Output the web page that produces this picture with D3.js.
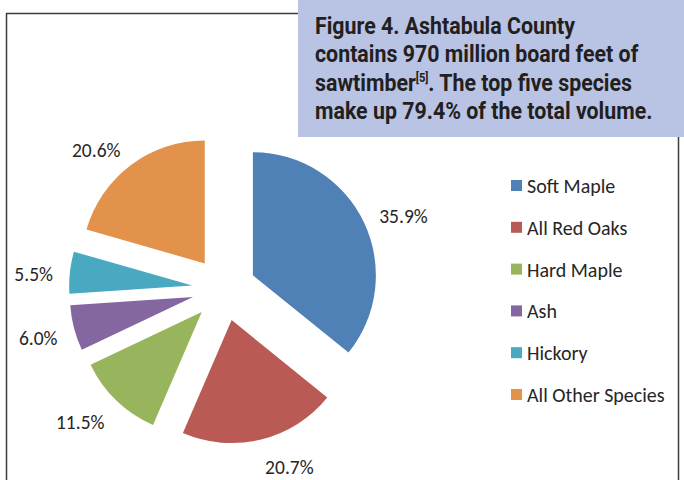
<!DOCTYPE html>
<html>
<head>
<meta charset="utf-8">
<script src="https://cdn.jsdelivr.net/npm/d3@7"></script>
<style>
  body { margin: 0; background: #fff; }
  svg { display: block; }
</style>
</head>
<body>
<svg id="chart" width="684" height="480"></svg>
<script>
// species share of sawtimber volume (%)
const species = ["Soft Maple", "All Red Oaks", "Hard Maple", "Ash", "Hickory", "All Other Species"];
const shares = [35.9, 20.7, 11.5, 6.0, 5.5, 20.6];
const colors = ["#4f80b6", "#b95a55", "#98b45c", "#8466a1", "#48a9c1", "#e2924a"];
const titleLines = [
  "Figure 4. Ashtabula County",
  "contains 970 million board feet of",
  "sawtimber",
  "make up 79.4% of the total volume."
];

const svg = d3.select("#chart");
const labelFont = "Carlito, Lato, 'Liberation Sans', sans-serif";

// chart frame
svg.append("path")
  .attr("d", "M6.5,480 V13.5 H678.5 V480")
  .attr("fill", "none")
  .attr("stroke", "#3b3b3b")
  .attr("stroke-width", 1.5);

// pie
const cx = 224, cy = 289, radius = 123, explode = 32, labelR = 172;
const pie = d3.pie().sort(null).value(d => d);
const arcs = pie(shares);
const arc = d3.arc().innerRadius(0).outerRadius(radius);
const dirArc = d3.arc().innerRadius(1).outerRadius(1);

const g = svg.append("g").attr("transform", "translate(" + cx + "," + cy + ")");

g.selectAll("path.slice")
  .data(arcs)
  .enter()
  .append("path")
  .attr("class", "slice")
  .attr("d", arc)
  .attr("fill", (d, i) => colors[i])
  .attr("transform", d => {
    const c = dirArc.centroid(d);
    return "translate(" + c[0] * explode + "," + c[1] * explode + ")";
  });

const labels = g.selectAll("text.lbl")
  .data(arcs)
  .enter()
  .append("text")
  .attr("class", "lbl")
  .attr("font-family", labelFont)
  .attr("font-size", 19.5)
  .attr("fill", "#262626")
  .attr("text-anchor", "middle")
  .text(d => d.data.toFixed(1) + "%");

labels.each(function(d) {
  const c = dirArc.centroid(d);
  const w = this.getComputedTextLength();
  const x = c[0] * labelR + Math.sign(c[0]) * w / 2;
  const y = c[1] * labelR + c[1] * 7 + 4;
  d3.select(this).attr("x", x).attr("y", y + 7);
});

// legend
const legendY = d3.scalePoint().domain(species).range([186, 395]);
const legend = svg.append("g");
legend.selectAll("rect")
  .data(species)
  .enter()
  .append("rect")
  .attr("x", 511)
  .attr("y", d => legendY(d) - 6)
  .attr("width", 11)
  .attr("height", 11)
  .attr("fill", (d, i) => colors[i]);
legend.selectAll("text")
  .data(species)
  .enter()
  .append("text")
  .attr("x", 527)
  .attr("y", d => legendY(d) + 7)
  .attr("font-family", labelFont)
  .attr("font-size", 20)
  .attr("fill", "#262626")
  .text(d => d);

// caption box
svg.append("rect")
  .attr("x", 298).attr("y", 0)
  .attr("width", 386).attr("height", 137)
  .attr("fill", "#b9c3e3");

const capG = svg.append("g");
const cap = capG.append("text")
  .attr("font-family", "Roboto, 'Liberation Sans', sans-serif")
  .attr("font-weight", "bold")
  .attr("font-size", 23)
  .attr("fill", "#231f20");

titleLines.forEach((line, i) => {
  cap.append("tspan").attr("x", 0).attr("y", 34 + i * 28.5).text(line);
  if (i === 2) {
    cap.append("tspan").attr("font-size", 12).attr("dy", -9).text("[5]");
    cap.append("tspan").attr("dy", 9).text(". The top five species");
  }
});

// squeeze to the condensed width of the printed caption
const firstW = cap.select("tspan").node().getComputedTextLength();
capG.attr("transform", "translate(315,0) scale(" + (260 / firstW) + ",1)");
</script>
</body>
</html>
